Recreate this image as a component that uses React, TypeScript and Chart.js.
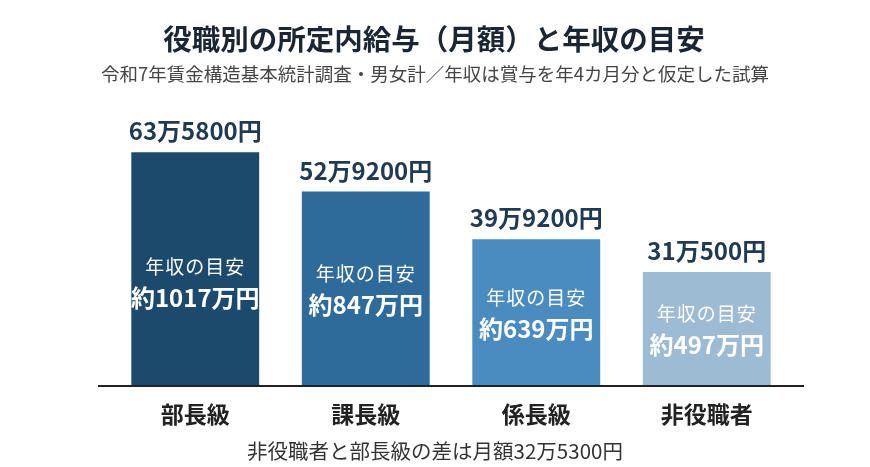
import React, { useEffect, useRef } from "react";
import { Chart, registerables } from "chart.js";

Chart.register(...registerables);

const TITLE = "役職別の所定内給与（月額）と年収の目安";
const SUBTITLE = "令和7年賃金構造基本統計調査・男女計／年収は賞与を年4カ月分と仮定した試算";
const FOOTNOTE = "非役職者と部長級の差は月額32万5300円";

const categories = ["部長級", "課長級", "係長級", "非役職者"];
// monthly scheduled salary, in 万円
const monthlyValues = [63.58, 52.92, 39.92, 31.05];
const monthlyLabels = ["63万5800円", "52万9200円", "39万9200円", "31万500円"];
const annualCaption = "年収の目安";
const annualLabels = ["約1017万円", "約847万円", "約639万円", "約497万円"];

const barColors = ["#1c4a6d", "#2e6b9b", "#4a8cbf", "#9dbbd2"];
const FONT = '"Noto Sans CJK JP", "Noto Sans", sans-serif';

export default function App() {
  const ref = useRef<HTMLCanvasElement | null>(null);

  useEffect(() => {
    const canvas = ref.current;
    if (!canvas) return;

    const textPlugin = {
      id: "customText",
      afterDraw(chart: any) {
        const ctx = chart.ctx as CanvasRenderingContext2D;
        const x = chart.scales.x;
        const y = chart.scales.y;
        const area = chart.chartArea;
        const base = y.getPixelForValue(0);
        ctx.save();
        // baseline
        ctx.strokeStyle = "#222222";
        ctx.lineWidth = 2;
        ctx.beginPath();
        ctx.moveTo(area.left - 12, base);
        ctx.lineTo(area.right + 12, base);
        ctx.stroke();

        ctx.textAlign = "center";
        ctx.textBaseline = "middle";
        // title
        ctx.fillStyle = "#1a2633";
        ctx.font = `bold 28.5px ${FONT}`;
        ctx.fillText(TITLE, 434, 39);
        ctx.fillStyle = "#444444";
        ctx.font = `18.5px ${FONT}`;
        ctx.fillText(SUBTITLE, 435, 74);

        const meta = chart.getDatasetMeta(0);
        meta.data.forEach((bar: any, i: number) => {
          const cx = bar.x;
          const top = bar.y;
          // value above
          ctx.fillStyle = "#1f3a52";
          ctx.font = `bold 24px ${FONT}`;
          ctx.textBaseline = "alphabetic";
          ctx.fillText(monthlyLabels[i], cx, top - 12);
          // inside text
          const mid = Math.max((top + base) / 2, base - 104);
          ctx.fillStyle = "#ffffff";
          ctx.textBaseline = "middle";
          ctx.font = `19px ${FONT}`;
          (ctx as any).letterSpacing = "1px";
          ctx.fillText(annualCaption, cx, mid - 15);
          (ctx as any).letterSpacing = "0px";
          ctx.font = `bold 24px ${FONT}`;
          ctx.fillText(annualLabels[i], cx, mid + 16);
          // category label
          ctx.fillStyle = "#222222";
          ctx.font = `bold 23px ${FONT}`;
          ctx.fillText(categories[i], x.getPixelForValue(i), base + 28);
        });

        ctx.fillStyle = "#333333";
        ctx.font = `20.5px ${FONT}`;
        ctx.fillText(FOOTNOTE, 435, 451);
        ctx.restore();
      },
    };

    const chart = new Chart(canvas, {
      type: "bar",
      data: {
        labels: categories,
        datasets: [
          {
            data: monthlyValues,
            backgroundColor: barColors,
            borderWidth: 0,
            barPercentage: 0.75,
            categoryPercentage: 1,
          },
        ],
      },
      options: {
        responsive: false,
        animation: false,
        layout: { padding: { left: 110, right: 78, top: 92, bottom: 81 } },
        plugins: {
          legend: { display: false },
          tooltip: { enabled: false },
          title: { display: false },
        },
        scales: {
          x: { display: false },
          y: { display: false, min: 0, max: 80 },
        },
      },
      plugins: [textPlugin],
    });
    return () => chart.destroy();
  }, []);

  return (
    <div style={{ position: "fixed", left: 0, top: 0, width: 870, height: 467, background: "#ffffff" }}>
      <canvas ref={ref} width={870} height={467} style={{ display: "block", width: 870, height: 467 }} />
    </div>
  );
}
